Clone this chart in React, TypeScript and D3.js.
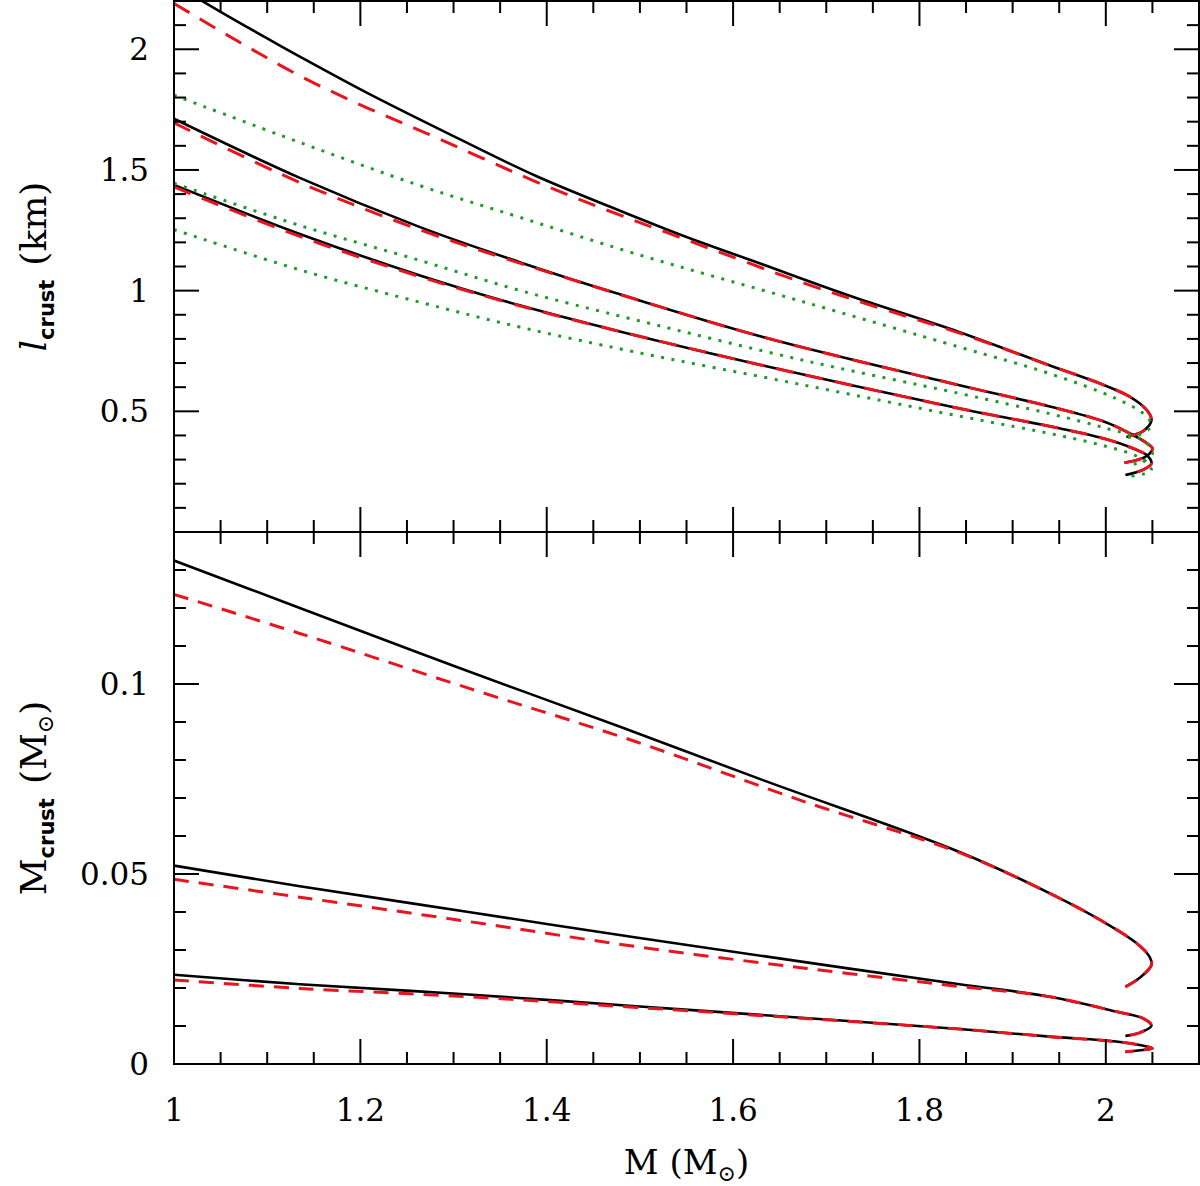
import React from 'react';
import * as d3 from 'd3';

type Pt = [number, number];

// ---- axis domains & ticks ----
const M_DOMAIN: [number, number] = [1, 2.1];
const L_DOMAIN: [number, number] = [0, 2.2];
const MC_DOMAIN: [number, number] = [0, 0.14];

const X_MAJOR = [1, 1.2, 1.4, 1.6, 1.8, 2];
const X_LABELS = ['1', '1.2', '1.4', '1.6', '1.8', '2'];
const X_MINOR_STEP = 0.05;

const L_MAJOR = [0.5, 1, 1.5, 2];
const L_LABELS = ['0.5', '1', '1.5', '2'];
const L_MINOR_STEP = 0.1;

const MC_MAJOR = [0, 0.05, 0.1];
const MC_LABELS = ['0', '0.05', '0.1'];
const MC_MINOR_STEP = 0.01;

// ---- top panel: l_crust (km) vs M ----
const L_SOLID_1: Pt[] = [[1.0, 2.27], [1.05, 2.155], [1.1, 2.045], [1.135, 1.97], [1.212, 1.81], [1.3, 1.64], [1.388, 1.476], [1.478, 1.332], [1.55, 1.222], [1.632, 1.108], [1.722, 0.983], [1.843, 0.828], [1.94, 0.69], [1.994, 0.615], [2.026, 0.56], [2.044, 0.505], [2.049, 0.463], [2.04, 0.418], [2.022, 0.394]];
const L_DASH_1: Pt[] = [[1.0, 2.19], [1.07, 2.03], [1.135, 1.89], [1.2, 1.77], [1.271, 1.652], [1.388, 1.452], [1.465, 1.333], [1.542, 1.222], [1.677, 1.03], [1.76, 0.925], [1.843, 0.824], [1.94, 0.69], [1.994, 0.615], [2.026, 0.56], [2.044, 0.505], [2.049, 0.463], [2.04, 0.418], [2.022, 0.394]];
const L_DOT_1: Pt[] = [[1.0, 1.81], [1.135, 1.614], [1.264, 1.435], [1.371, 1.304], [1.496, 1.152], [1.677, 0.952], [1.843, 0.766], [1.94, 0.656], [2.011, 0.553], [2.04, 0.491], [2.049, 0.443], [2.04, 0.41], [2.022, 0.39]];

const L_SOLID_2: Pt[] = [[1.0, 1.712], [1.135, 1.467], [1.264, 1.263], [1.371, 1.118], [1.474, 0.99], [1.632, 0.808], [1.843, 0.608], [1.94, 0.52], [2.0, 0.455], [2.026, 0.408], [2.044, 0.368], [2.05, 0.346], [2.045, 0.318], [2.035, 0.3], [2.02, 0.287]];
const L_DASH_2: Pt[] = [[1.0, 1.695], [1.135, 1.448], [1.264, 1.252], [1.371, 1.114], [1.474, 0.99], [1.632, 0.808], [1.843, 0.608], [1.94, 0.52], [2.0, 0.455], [2.026, 0.408], [2.044, 0.368], [2.05, 0.346], [2.045, 0.318], [2.035, 0.3], [2.02, 0.287]];
const L_DOT_2: Pt[] = [[1.0, 1.445], [1.135, 1.27], [1.264, 1.125], [1.371, 1.001], [1.496, 0.878], [1.677, 0.71], [1.843, 0.574], [1.94, 0.49], [2.0, 0.43], [2.04, 0.38], [2.05, 0.325], [2.04, 0.293], [2.023, 0.275]];

const L_SOLID_3: Pt[] = [[1.0, 1.438], [1.135, 1.235], [1.264, 1.063], [1.371, 0.939], [1.474, 0.835], [1.632, 0.69], [1.843, 0.512], [1.95, 0.43], [2.0, 0.385], [2.03, 0.345], [2.044, 0.318], [2.049, 0.284], [2.04, 0.258], [2.021, 0.236]];
const L_DASH_3: Pt[] = [[1.0, 1.43], [1.135, 1.225], [1.264, 1.058], [1.371, 0.937], [1.474, 0.835], [1.632, 0.69], [1.843, 0.512], [1.95, 0.43], [2.0, 0.385], [2.03, 0.345], [2.044, 0.318], [2.049, 0.284], [2.04, 0.258], [2.021, 0.236]];
const L_DOT_3: Pt[] = [[1.0, 1.253], [1.135, 1.086], [1.264, 0.952], [1.371, 0.849], [1.496, 0.745], [1.677, 0.608], [1.843, 0.48], [1.95, 0.4], [2.0, 0.355], [2.035, 0.31], [2.049, 0.256], [2.04, 0.24], [2.022, 0.229]];

// ---- bottom panel: M_crust (Msun) vs M ----
const MC_SOLID_1: Pt[] = [[1.0, 0.1325], [1.135, 0.12], [1.302, 0.1046], [1.478, 0.0888], [1.632, 0.0747], [1.843, 0.0558], [1.94, 0.0449], [1.994, 0.0379], [2.033, 0.0318], [2.047, 0.0282], [2.049, 0.0261], [2.036, 0.0226], [2.021, 0.0203]];
const MC_DASH_1: Pt[] = [[1.0, 0.1236], [1.135, 0.1133], [1.316, 0.0989], [1.496, 0.0848], [1.677, 0.069], [1.843, 0.0556], [1.94, 0.0449], [1.994, 0.0379], [2.033, 0.0318], [2.047, 0.0282], [2.049, 0.0261], [2.036, 0.0226], [2.021, 0.0203]];

const MC_SOLID_2: Pt[] = [[1.0, 0.0522], [1.135, 0.0468], [1.316, 0.04], [1.496, 0.0333], [1.677, 0.0268], [1.843, 0.021], [1.94, 0.0177], [2.011, 0.0138], [2.04, 0.012], [2.049, 0.0101], [2.036, 0.0082], [2.021, 0.0074]];
const MC_DASH_2: Pt[] = [[1.0, 0.0486], [1.135, 0.0439], [1.316, 0.0375], [1.496, 0.0309], [1.677, 0.0252], [1.843, 0.0204], [1.94, 0.0177], [2.011, 0.0138], [2.04, 0.012], [2.049, 0.0101], [2.036, 0.0082], [2.021, 0.0074]];

const MC_SOLID_3: Pt[] = [[1.0, 0.0235], [1.135, 0.021], [1.316, 0.0183], [1.496, 0.0152], [1.677, 0.0121], [1.843, 0.0092], [1.94, 0.0072], [2.011, 0.0059], [2.044, 0.0046], [2.05, 0.0041], [2.04, 0.0037], [2.021, 0.0032]];
const MC_DASH_3: Pt[] = [[1.0, 0.0221], [1.135, 0.0199], [1.316, 0.0177], [1.496, 0.0149], [1.677, 0.012], [1.843, 0.0092], [1.94, 0.0072], [2.011, 0.0059], [2.044, 0.0046], [2.05, 0.0041], [2.04, 0.0037], [2.021, 0.0032]];

// ---- layout ----
const W = 1200;
const H = 1186;
const LEFT = 174;
const RIGHT = 1199;
const TOP = 1;
const MID = 532;
const BOTTOM = 1064;
const MAJ = 25;
const MIN = 12;

const BLACK = '#000000';
const RED = '#e8141e';
const GREEN = '#1f9a2a';
const SERIF = '"DejaVu Serif", serif';
const SANS = '"DejaVu Sans", sans-serif';

const x = d3.scaleLinear().domain(M_DOMAIN).range([LEFT, RIGHT]);
const yTop = d3.scaleLinear().domain(L_DOMAIN).range([MID, TOP]);
const yBot = d3.scaleLinear().domain(MC_DOMAIN).range([BOTTOM, MID]);

function steps(lo: number, hi: number, step: number): number[] {
  const n = Math.round((hi - lo) / step);
  return d3.range(n + 1).map((i) => +(lo + i * step).toFixed(6));
}

function Panel({ y, yTop0, yBot0, majors, labels, minorStep, domain, series, clipId }: any) {
  const line = d3.line<Pt>().x((d) => x(d[0])).y((d) => y(d[1])).curve(d3.curveCatmullRom.alpha(0.5));
  const xMinor = steps(M_DOMAIN[0], M_DOMAIN[1], X_MINOR_STEP);
  const yMinor = steps(domain[0], domain[1], minorStep);
  const isMajorX = (v: number) => X_MAJOR.some((m) => Math.abs(m - v) < 1e-6);
  const isMajorY = (v: number) => majors.some((m: number) => Math.abs(m - v) < 1e-6);
  return (
    <g>
      <defs>
        <clipPath id={clipId}>
          <rect x={LEFT} y={yTop0} width={RIGHT - LEFT} height={yBot0 - yTop0} />
        </clipPath>
      </defs>
      <g clipPath={`url(#${clipId})`} fill="none">
        {series.map((s: any, i: number) => (
          <path key={i} d={line(s.data) || ''} stroke={s.color} strokeWidth={s.width}
            strokeDasharray={s.dash} strokeLinecap={s.cap || 'butt'} strokeLinejoin="round" />
        ))}
      </g>
      <g stroke={BLACK} strokeWidth={2}>
        {xMinor.map((v) => {
          const len = isMajorX(v) ? MAJ : MIN;
          return (
            <g key={'x' + v}>
              <line x1={x(v)} x2={x(v)} y1={yBot0} y2={yBot0 - len} />
              <line x1={x(v)} x2={x(v)} y1={yTop0} y2={yTop0 + len} />
            </g>
          );
        })}
        {yMinor.map((v) => {
          const len = isMajorY(v) ? MAJ : MIN;
          return (
            <g key={'y' + v}>
              <line x1={LEFT} x2={LEFT + len} y1={y(v)} y2={y(v)} />
              <line x1={RIGHT} x2={RIGHT - len} y1={y(v)} y2={y(v)} />
            </g>
          );
        })}
        <rect x={LEFT} y={yTop0} width={RIGHT - LEFT} height={yBot0 - yTop0} fill="none" />
      </g>
      <g fontFamily={SERIF} fontSize={31} fill={BLACK} textAnchor="end">
        {majors.map((v: number, i: number) => (
          <text key={'yl' + v} x={149} y={y(v) + 11}>{labels[i]}</text>
        ))}
      </g>
    </g>
  );
}

export default function App() {
  const topSeries = [
    { data: L_SOLID_1, color: BLACK, width: 2.6 },
    { data: L_SOLID_2, color: BLACK, width: 2.6 },
    { data: L_SOLID_3, color: BLACK, width: 2.6 },
    { data: L_DASH_1, color: RED, width: 3, dash: '18 12' },
    { data: L_DASH_2, color: RED, width: 3, dash: '18 12' },
    { data: L_DASH_3, color: RED, width: 3, dash: '18 12' },
    { data: L_DOT_1, color: GREEN, width: 3, dash: '3 7.5' },
    { data: L_DOT_2, color: GREEN, width: 3, dash: '3 7.5' },
    { data: L_DOT_3, color: GREEN, width: 3, dash: '3 7.5' },
  ];
  const botSeries = [
    { data: MC_SOLID_1, color: BLACK, width: 2.6 },
    { data: MC_SOLID_2, color: BLACK, width: 2.6 },
    { data: MC_SOLID_3, color: BLACK, width: 2.6 },
    { data: MC_DASH_1, color: RED, width: 3, dash: '15 10' },
    { data: MC_DASH_2, color: RED, width: 3, dash: '15 10' },
    { data: MC_DASH_3, color: RED, width: 3, dash: '15 10' },
  ];
  return (
    <svg width={W} height={H} viewBox={`0 0 ${W} ${H}`}
      style={{ position: 'absolute', left: 0, top: 0, background: '#fff', display: 'block' }}>
      <rect x={0} y={0} width={W} height={H} fill="#fff" />
      <Panel y={yTop} yTop0={TOP} yBot0={MID} majors={L_MAJOR} labels={L_LABELS}
        minorStep={L_MINOR_STEP} domain={L_DOMAIN} series={topSeries} clipId="clipTop" />
      <Panel y={yBot} yTop0={MID} yBot0={BOTTOM} majors={MC_MAJOR} labels={MC_LABELS}
        minorStep={MC_MINOR_STEP} domain={MC_DOMAIN} series={botSeries} clipId="clipBot" />
      <g fontFamily={SERIF} fontSize={31} fill={BLACK} textAnchor="middle">
        {X_MAJOR.map((v, i) => (
          <text key={'xl' + v} x={x(v)} y={1121}>{X_LABELS[i]}</text>
        ))}
      </g>
      <text x={(LEFT + RIGHT) / 2} y={1174} textAnchor="middle" fontFamily={SERIF} fontSize={34} fill={BLACK}>
        M (M<tspan fontSize={22} dy={7}>⊙</tspan><tspan dy={-7}>)</tspan>
      </text>
      <text transform={`translate(46,${(TOP + MID) / 2}) rotate(-90)`} textAnchor="middle" fontFamily={SERIF} fontSize={36} fill={BLACK}>
        <tspan fontStyle="italic">l</tspan>
        <tspan fontFamily={SANS} fontWeight="bold" fontSize={21} dy={8}>crust</tspan>
        <tspan dy={-8} dx={14}>(km)</tspan>
      </text>
      <text transform={`translate(46,${(MID + BOTTOM) / 2}) rotate(-90)`} textAnchor="middle" fontFamily={SERIF} fontSize={36} fill={BLACK}>
        <tspan>M</tspan>
        <tspan fontFamily={SANS} fontWeight="bold" fontSize={21} dy={8}>crust</tspan>
        <tspan dy={-8} dx={14}>(M</tspan>
        <tspan fontSize={22} dy={7}>⊙</tspan>
        <tspan dy={-7}>)</tspan>
      </text>
    </svg>
  );
}
